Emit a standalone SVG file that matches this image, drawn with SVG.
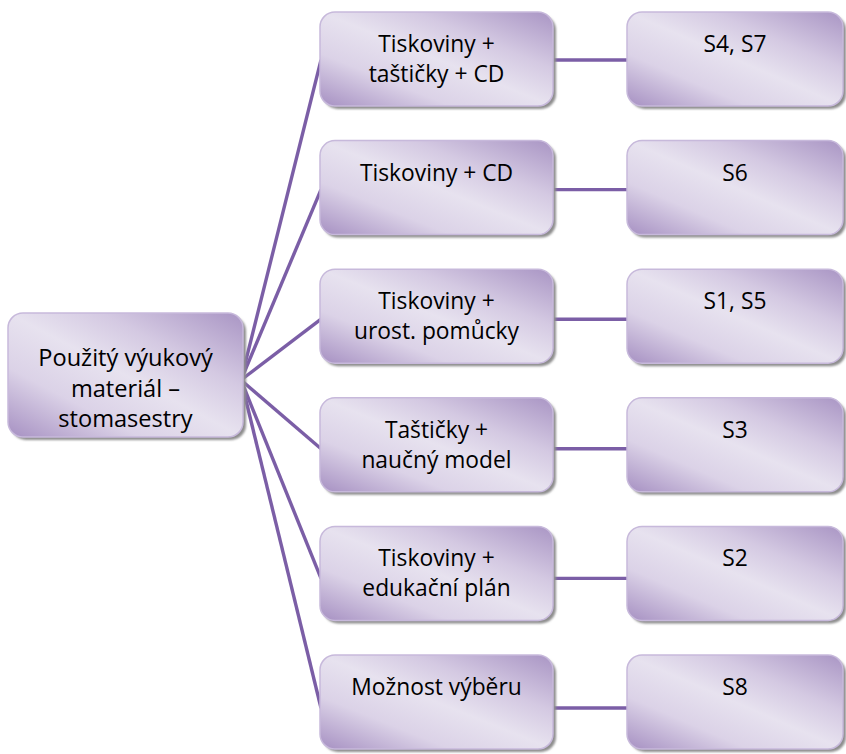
<svg xmlns="http://www.w3.org/2000/svg" width="846" height="754" viewBox="0 0 846 754">
  <defs>
    <linearGradient id="boxFill" x1="1" y1="0" x2="0" y2="1">
      <stop offset="0" stop-color="#a995c4"/>
      <stop offset="0.3" stop-color="#d4c9e2"/>
      <stop offset="0.5" stop-color="#e7e2ef"/>
      <stop offset="0.72" stop-color="#dbd2e7"/>
      <stop offset="1" stop-color="#a690c2"/>
    </linearGradient>
    <filter id="soft" x="-5%" y="-5%" width="110%" height="110%">
      <feGaussianBlur stdDeviation="1"/>
    </filter>
  </defs>
  <style>
    .shadow { fill: #8e8e8e; filter: url(#soft); }
    .box { fill: url(#boxFill); stroke: #c7b9db; stroke-width: 1.5; }
    .label { font-family: "Open Sans", "Liberation Sans", sans-serif; font-size: 22.8px; fill: #000; text-anchor: middle; }
    .root-label { font-size: 23.6px; }
    .link { stroke: #7b5ea6; stroke-width: 3.4; fill: none; }
  </style>

  <!-- connectors -->
  <g id="connectors">
    <line class="link" x1="241" y1="380" x2="321" y2="60"/>
    <line class="link" x1="241" y1="380" x2="321" y2="189.6"/>
    <line class="link" x1="241" y1="380" x2="321" y2="319.2"/>
    <line class="link" x1="241" y1="380" x2="321" y2="448.8"/>
    <line class="link" x1="241" y1="380" x2="321" y2="578.4"/>
    <line class="link" x1="241" y1="380" x2="321" y2="708"/>
    <line class="link" x1="553" y1="60" x2="627" y2="60"/>
    <line class="link" x1="553" y1="189.6" x2="627" y2="189.6"/>
    <line class="link" x1="553" y1="319.2" x2="627" y2="319.2"/>
    <line class="link" x1="553" y1="448.8" x2="627" y2="448.8"/>
    <line class="link" x1="553" y1="578.4" x2="627" y2="578.4"/>
    <line class="link" x1="553" y1="708" x2="627" y2="708"/>
  </g>

  <!-- root -->
  <g id="root">
    <rect class="shadow" x="11" y="316" width="235" height="124" rx="15"/>
    <rect class="box" x="8" y="313" width="235" height="124" rx="15"/>
    <text class="label root-label" x="125.5" y="366">Použitý výukový</text>
    <text class="label root-label" x="125.5" y="397">materiál –</text>
    <text class="label root-label" x="125.5" y="427">stomasestry</text>
  </g>

  <!-- material groups -->
  <g id="m1">
    <rect class="shadow" x="323" y="15" width="233" height="94" rx="15"/>
    <rect class="box" x="320" y="12" width="233" height="94" rx="15"/>
    <text class="label" x="436.5" y="52">Tiskoviny +</text>
    <text class="label" x="436.5" y="82">taštičky + CD</text>
  </g>
  <g id="m2">
    <rect class="shadow" x="323" y="143.6" width="233" height="94" rx="15"/>
    <rect class="box" x="320" y="140.6" width="233" height="94" rx="15"/>
    <text class="label" x="436.5" y="180.6">Tiskoviny + CD</text>
  </g>
  <g id="m3">
    <rect class="shadow" x="323" y="272.2" width="233" height="94" rx="15"/>
    <rect class="box" x="320" y="269.2" width="233" height="94" rx="15"/>
    <text class="label" x="436.5" y="309.2">Tiskoviny +</text>
    <text class="label" x="436.5" y="339.2">urost. pomůcky</text>
  </g>
  <g id="m4">
    <rect class="shadow" x="323" y="400.8" width="233" height="94" rx="15"/>
    <rect class="box" x="320" y="397.8" width="233" height="94" rx="15"/>
    <text class="label" x="436.5" y="437.8">Taštičky +</text>
    <text class="label" x="436.5" y="467.8">naučný model</text>
  </g>
  <g id="m5">
    <rect class="shadow" x="323" y="529.4" width="233" height="94" rx="15"/>
    <rect class="box" x="320" y="526.4" width="233" height="94" rx="15"/>
    <text class="label" x="436.5" y="566.4">Tiskoviny +</text>
    <text class="label" x="436.5" y="596.4">edukační plán</text>
  </g>
  <g id="m6">
    <rect class="shadow" x="323" y="658" width="233" height="94" rx="15"/>
    <rect class="box" x="320" y="655" width="233" height="94" rx="15"/>
    <text class="label" x="436.5" y="695">Možnost výběru</text>
  </g>

  <!-- nurse groups -->
  <g id="s1">
    <rect class="shadow" x="630" y="15" width="216" height="94" rx="15"/>
    <rect class="box" x="627" y="12" width="216" height="94" rx="15"/>
    <text class="label" x="735" y="52">S4, S7</text>
  </g>
  <g id="s2">
    <rect class="shadow" x="630" y="143.6" width="216" height="94" rx="15"/>
    <rect class="box" x="627" y="140.6" width="216" height="94" rx="15"/>
    <text class="label" x="735" y="180.6">S6</text>
  </g>
  <g id="s3">
    <rect class="shadow" x="630" y="272.2" width="216" height="94" rx="15"/>
    <rect class="box" x="627" y="269.2" width="216" height="94" rx="15"/>
    <text class="label" x="735" y="309.2">S1, S5</text>
  </g>
  <g id="s4">
    <rect class="shadow" x="630" y="400.8" width="216" height="94" rx="15"/>
    <rect class="box" x="627" y="397.8" width="216" height="94" rx="15"/>
    <text class="label" x="735" y="437.8">S3</text>
  </g>
  <g id="s5">
    <rect class="shadow" x="630" y="529.4" width="216" height="94" rx="15"/>
    <rect class="box" x="627" y="526.4" width="216" height="94" rx="15"/>
    <text class="label" x="735" y="566.4">S2</text>
  </g>
  <g id="s6">
    <rect class="shadow" x="630" y="658" width="216" height="94" rx="15"/>
    <rect class="box" x="627" y="655" width="216" height="94" rx="15"/>
    <text class="label" x="735" y="695">S8</text>
  </g>
</svg>
